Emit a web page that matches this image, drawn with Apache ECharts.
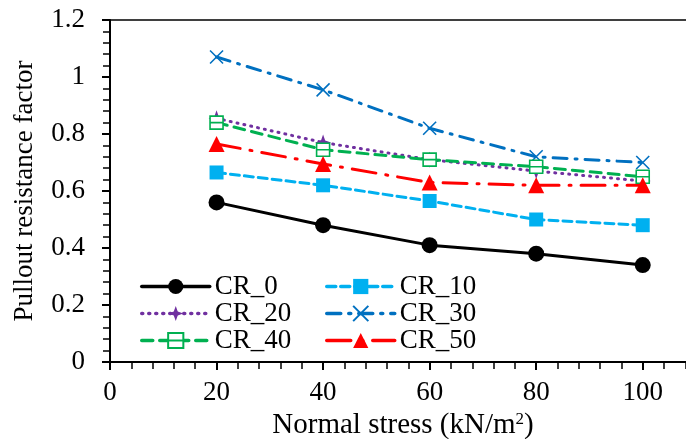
<!DOCTYPE html>
<html>
<head>
<meta charset="utf-8">
<script src="https://cdn.jsdelivr.net/npm/echarts@6/dist/echarts.min.js"></script>
<style>
    html, body { margin: 0; padding: 0; background: #fff; }
    #main { width: 686px; height: 439px; }
</style>
</head>
<body>
<div id="main"></div>
<script>
var stress = [20, 40, 60, 80, 100];
var cr0  = [0.56, 0.48, 0.41, 0.38, 0.34];
var cr10 = [0.665, 0.62, 0.565, 0.50, 0.48];
var cr20 = [0.855, 0.77, 0.71, 0.67, 0.635];
var cr30 = [1.07, 0.955, 0.82, 0.72, 0.70];
var cr40 = [0.84, 0.745, 0.71, 0.685, 0.65];
var cr50 = [0.765, 0.695, 0.63, 0.62, 0.62];

function pairs(ys)
{
    return stress.map(function(x, i) { return [x, ys[i]]; });
}

var font = '"Liberation Serif", "Times New Roman", serif';

function makeSeries(name, ys, color, lineType, symbol, size, itemStyle)
{
    return {
        name: name,
        type: 'line',
        data: pairs(ys),
        symbol: symbol,
        symbolSize: size,
        showAllSymbol: true,
        lineStyle: { color: color, width: 3, type: lineType, cap: 'round' },
        itemStyle: itemStyle || { color: color },
        z: 3
    };
}

var series = [
    makeSeries('CR_0', cr0, '#000000', 'solid', 'circle', 16),
    makeSeries('CR_10', cr10, '#00B0F0', [9, 5], 'rect', 14),
    makeSeries('CR_20', cr20, '#7030A0', [1, 6], 'path://M5,0L6.3,3.7L10,5L6.3,6.3L5,10L3.7,6.3L0,5L3.7,3.7Z', 16),
    makeSeries('CR_30', cr30, '#0070C0', [14, 8, 2, 8], 'path://M0,0L10,10M10,0L0,10', 13,
        { color: 'none', borderColor: '#0070C0', borderWidth: 1.6 }),
    makeSeries('CR_40', cr40, '#00B050', [11, 7], 'path://M0,0H10V10H0ZM0,5H10', 13,
        { color: '#fff', borderColor: '#00B050', borderWidth: 1.6 }),
    makeSeries('CR_50', cr50, '#FF0000', [24, 10, 2, 10], 'triangle', 16)
];

var legendCommon = {
    orient: 'vertical',
    itemWidth: 68,
    itemHeight: 19,
    itemGap: 0,
    lineStyle: { width: 3.5 },
    textStyle: { fontFamily: font, fontSize: 27, color: '#000' }
};

var option = {
    animation: false,
    backgroundColor: '#fff',
    grid: {
        left: 110, top: 20, right: -10, bottom: 77,
        outerBoundsMode: 'none',
        containLabel: false,
        show: true, borderColor: '#000', borderWidth: 1.5
    },
    legend: [
        Object.assign({ left: 135, top: 268, data: ['CR_0', 'CR_20', 'CR_40'] }, legendCommon),
        Object.assign({ left: 320, top: 268, data: ['CR_10', 'CR_30', 'CR_50'] }, legendCommon)
    ],
    xAxis: {
        type: 'value',
        min: 0,
        max: 110,
        interval: 20,
        name: '{n|Normal stress (kN/m}{s|2}{n|)}',
        nameLocation: 'middle',
        nameGap: 44,
        nameTextStyle: {
            rich: {
                n: { fontFamily: font, fontSize: 29, color: '#000' },
                s: { fontFamily: font, fontSize: 17, color: '#000', verticalAlign: 'top', padding: [0, 0, 10, 0] }
            }
        },
        axisLine: { onZero: false, lineStyle: { color: '#000', width: 2 } },
        axisTick: { inside: false, length: 8, lineStyle: { color: '#000', width: 2 } },
        minorTick: { show: true, splitNumber: 5, length: 7, lineStyle: { color: '#000', width: 1.5 } },
        axisLabel: { fontFamily: font, fontSize: 27, color: '#000', margin: 17, showMaxLabel: false },
        splitLine: { show: false }
    },
    yAxis: {
        type: 'value',
        min: 0,
        max: 1.2,
        interval: 0.2,
        name: 'Pullout resistance factor',
        nameLocation: 'middle',
        nameGap: 72,
        nameTextStyle: { fontFamily: font, fontSize: 27, color: '#000' },
        axisLine: { onZero: false, lineStyle: { color: '#000', width: 2 } },
        axisTick: { length: 8, lineStyle: { color: '#000', width: 2 } },
        minorTick: { show: true, splitNumber: 5, length: 7, lineStyle: { color: '#000', width: 1.5 } },
        axisLabel: {
            fontFamily: font, fontSize: 27, color: '#000', margin: 25,
            formatter: function(v) { return String(Math.round(v * 10) / 10); }
        },
        splitLine: { show: false }
    },
    series: series
};

var myChart = echarts.init(document.getElementById('main'));
myChart.setOption(option);
</script>
</body>
</html>
